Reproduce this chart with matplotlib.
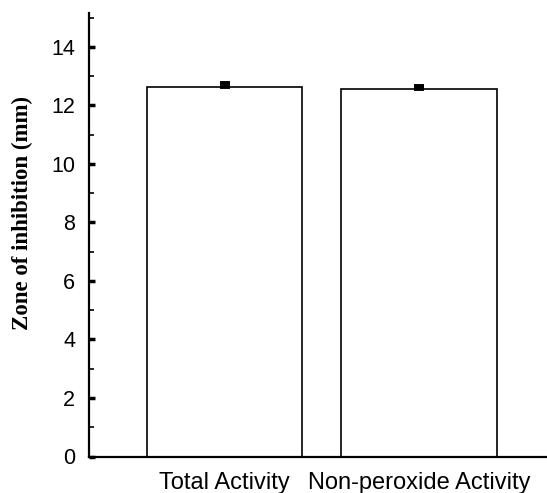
import matplotlib
matplotlib.use("Agg")
import matplotlib.pyplot as plt
from matplotlib.ticker import MultipleLocator

categories = ["Total Activity", "Non-peroxide Activity"]
values = [12.62, 12.55]
errors = [0.16, 0.10]
y_ticks = [0, 2, 4, 6, 8, 10, 12, 14]

fig = plt.figure(figsize=(5.47, 4.93), dpi=100)
ax = fig.add_axes([89/547, 36.5/493, 458/547, 443.5/493])

x = list(range(len(categories)))
ax.bar(x, values, width=0.80, color="white", edgecolor="black", linewidth=1.2, zorder=2)
ax.errorbar(x, values, yerr=[[0]*len(errors), errors], fmt="none", ecolor="black",
            elinewidth=2.0, capsize=3.6, capthick=2.8, zorder=3)

ax.set_xlim(-0.70, 1.66)
ax.set_ylim(0, 15.16)
ax.set_xticks(x)
ax.set_xticklabels(categories, fontsize=17, family="Liberation Sans")
ax.set_yticks(y_ticks)
ax.set_yticklabels([str(t) for t in y_ticks], fontsize=15.5, family="Liberation Sans")
ax.yaxis.set_minor_locator(MultipleLocator(1))

ax.tick_params(axis="y", which="major", direction="in", length=4, width=2.5, pad=10)
ax.tick_params(axis="y", which="minor", direction="in", length=3.5, width=1.2)
ax.tick_params(axis="x", which="major", direction="in", length=4, width=2, pad=11)

for s in ["top", "right"]:
    ax.spines[s].set_visible(False)
for s in ["left", "bottom"]:
    ax.spines[s].set_linewidth(1.6)

ax.set_ylabel("Zone of inhibition (mm)", fontsize=16.5, family="Liberation Serif",
              fontweight="bold", va="center")
ax.yaxis.set_label_coords(-0.146, 0.548)

fig.savefig("out.png", dpi=100)
